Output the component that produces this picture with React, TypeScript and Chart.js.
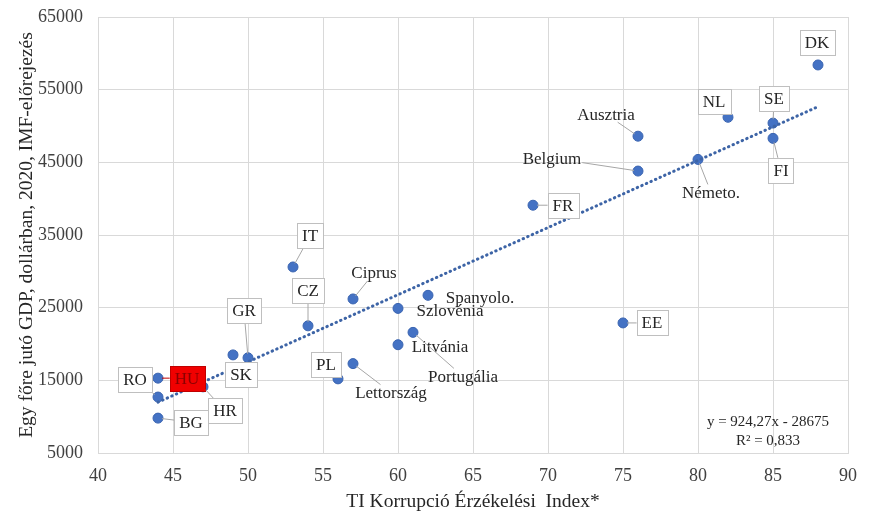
import React, { useEffect, useRef } from "react";
import { Chart, registerables } from "chart.js";

Chart.register(...registerables);

// ---- data ----
const countryLabels = [
  "RO", "HU", "BG", "HR", "SK", "GR", "IT", "CZ", "PL", "Lettország",
  "Ciprus", "Spanyolo.", "Szlovénia", "Litvánia", "Portugália", "EE", "FR",
  "Belgium", "Ausztria", "Németo.", "NL", "SE", "FI", "DK",
];
const cpiIndex = [44, 44, 44, 47, 49, 50, 53, 54, 56, 57, 57, 62, 60, 60, 61, 75, 69, 76, 76, 80, 82, 85, 85, 88];
const gdpPerCapita = [
  12700, 15300, 9800, 14100, 18500, 18100, 30600, 22500, 15200, 17300,
  26200, 26700, 24900, 19900, 21600, 22900, 39100, 43800, 48600, 45400,
  51200, 50400, 48300, 58400,
];
const xTickValues = [40, 45, 50, 55, 60, 65, 70, 75, 80, 85, 90];
const yTickValues = [5000, 15000, 25000, 35000, 45000, 55000, 65000];
const trendSlope = 924.27;
const trendIntercept = -28675;
const trendFrom = 44;
const trendTo = 88;
const equationLines = ["y = 924,27x - 28675", "R² = 0,833"];
const xAxisTitle = "TI Korrupció Érzékelési  Index*";
const yAxisTitle = "Egy főre jutó GDP, dollárban, 2020, IMF-előrejezés";

// ---- label layout (style, offset from point in px, leader line) ----
type LabelKind = "box" | "highlight" | "text";
const labelKinds: LabelKind[] = [
  "box", "highlight", "box", "box", "box", "box", "box", "box", "box", "text",
  "text", "text", "text", "text", "text", "box", "box",
  "text", "text", "text", "box", "box", "box", "box",
];
const labelOffsets: [number, number][] = [
  [-23, -18], [29, 0], [33, 4], [22, 24], [8, 20], [-4, -47], [17, -31], [0, -35], [-12, -14], [38, 29],
  [21, -26], [52, 2], [52, 2], [42, 2], [50, 44], [29, 0], [30, 0],
  [-86, -13], [-32, -22], [13, 33], [-14, -16], [1, -25], [8, 32], [-1, -22],
];
const labelLeaders = [
  true, true, true, true, false, true, true, true, false, true,
  true, false, false, false, true, true, true,
  true, true, true, false, true, true, false,
];

const SERIF = '"Liberation Serif", "Times New Roman", serif';
const TEXT_COLOR = "#262626";

const labelPlugin = {
  id: "pointLabels",
  afterDatasetsDraw(chart: any) {
    const ctx = chart.ctx as CanvasRenderingContext2D;
    const xs = chart.scales.x;
    const ys = chart.scales.y;
    ctx.save();
    ctx.font = `17px ${SERIF}`;
    ctx.textAlign = "center";
    ctx.textBaseline = "middle";
    countryLabels.forEach((label, i) => {
      const px = xs.getPixelForValue(cpiIndex[i]);
      const py = ys.getPixelForValue(gdpPerCapita[i]);
      const [dx, dy] = labelOffsets[i];
      const cx = px + dx;
      const cy = py + dy;
      const kind = labelKinds[i];
      const tw = ctx.measureText(label).width;
      const boxed = kind !== "text";
      const w = boxed ? tw + 10 : tw + 2;
      const h = boxed ? 25 : 16;
      if (labelLeaders[i]) {
        const ddx = px - cx;
        const ddy = py - cy;
        const len = Math.hypot(ddx, ddy);
        const tx = ddx === 0 ? Infinity : (w / 2) / Math.abs(ddx);
        const ty = ddy === 0 ? Infinity : (h / 2) / Math.abs(ddy);
        const t = Math.min(tx, ty);
        const sx = cx + ddx * t;
        const sy = cy + ddy * t;
        const ex = px - (ddx / len) * 4;
        const ey = py - (ddy / len) * 4;
        if (Math.hypot(ex - sx, ey - sy) > 2 && t < 1) {
          ctx.strokeStyle = kind === "highlight" ? "#c00000" : "#a6a6a6";
          ctx.lineWidth = 1;
          ctx.beginPath();
          ctx.moveTo(sx, sy);
          ctx.lineTo(ex, ey);
          ctx.stroke();
        }
      }
      if (boxed) {
        const x0 = Math.round(cx - w / 2) + 0.5;
        const y0 = Math.round(cy - h / 2) + 0.5;
        ctx.fillStyle = kind === "highlight" ? "#f00000" : "#ffffff";
        ctx.fillRect(x0, y0, Math.round(w), h);
        ctx.strokeStyle = kind === "highlight" ? "#c00000" : "#bfbfbf";
        ctx.lineWidth = 1;
        ctx.strokeRect(x0, y0, Math.round(w), h);
      }
      ctx.fillStyle = kind === "highlight" ? "#8a0000" : TEXT_COLOR;
      ctx.fillText(label, cx, cy + 1);
    });

    // regression equation
    const area = chart.chartArea;
    ctx.font = `15px ${SERIF}`;
    ctx.fillStyle = TEXT_COLOR;
    ctx.textAlign = "center";
    ctx.fillText(equationLines[0], area.right - 80, area.bottom - 31);
    ctx.fillText(equationLines[1], area.right - 80, area.bottom - 12);
    ctx.restore();
  },
};

export default function App() {
  const ref = useRef<HTMLCanvasElement>(null);
  useEffect(() => {
    document.body.style.margin = "0";
    const canvas = ref.current;
    if (!canvas) return;
    const points = cpiIndex.map((x, i) => ({ x, y: gdpPerCapita[i] }));
    const trend = [trendFrom, trendTo].map((x) => ({ x, y: trendSlope * x + trendIntercept }));
    const chart = new Chart(canvas, {
      type: "scatter",
      data: {
        datasets: [
          {
            type: "line",
            label: "trend",
            data: trend,
            borderColor: "#3d64a6",
            borderWidth: 3,
            borderDash: [0.5, 4.5],
            borderCapStyle: "round",
            pointRadius: 0,
            fill: false,
            order: 0,
          } as any,
          {
            label: "countries",
            data: points,
            backgroundColor: "#4472c4",
            borderColor: "#3a64b0",
            borderWidth: 1,
            pointRadius: 5,
            order: 1,
          },
        ],
      },
      options: {
        responsive: false,
        animation: false,
        layout: { padding: { left: 8, right: 25, top: 17, bottom: 0 } },
        plugins: {
          legend: { display: false },
          tooltip: { enabled: false },
        },
        scales: {
          x: {
            type: "linear",
            min: 40,
            max: 90,
            afterBuildTicks: (s: any) => {
              s.ticks = xTickValues.map((v) => ({ value: v }));
            },
            afterFit: (s: any) => {
              s.height = 61;
              s.paddingLeft = 0;
              s.paddingRight = 0;
            },
            grid: { color: "#d9d9d9", drawTicks: false },
            border: { color: "#d9d9d9" },
            ticks: {
              padding: 12,
              color: "#404040",
              font: { family: SERIF, size: 18 },
              maxRotation: 0,
            },
            title: {
              display: true,
              text: xAxisTitle,
              color: TEXT_COLOR,
              font: { family: SERIF, size: 19.5 },
              padding: { top: 7, bottom: 0 },
            },
          },
          y: {
            type: "linear",
            min: 5000,
            max: 65000,
            afterBuildTicks: (s: any) => {
              s.ticks = yTickValues.map((v) => ({ value: v }));
            },
            afterFit: (s: any) => {
              s.width = 90;
              s.paddingTop = 0;
              s.paddingBottom = 0;
            },
            grid: { color: "#d9d9d9", drawTicks: false },
            border: { color: "#d9d9d9" },
            ticks: {
              padding: 15,
              color: "#404040",
              font: { family: SERIF, size: 18 },
              callback: (v: any) => String(v),
            },
            title: {
              display: true,
              text: yAxisTitle,
              color: TEXT_COLOR,
              font: { family: SERIF, size: 19.5 },
              padding: { top: 7, bottom: 0 },
            },
          },
        },
      },
      plugins: [labelPlugin],
    });
    return () => chart.destroy();
  }, []);
  return (
    <div style={{ width: 873, height: 514, background: "#ffffff" }}>
      <canvas ref={ref} width={873} height={514} />
    </div>
  );
}
